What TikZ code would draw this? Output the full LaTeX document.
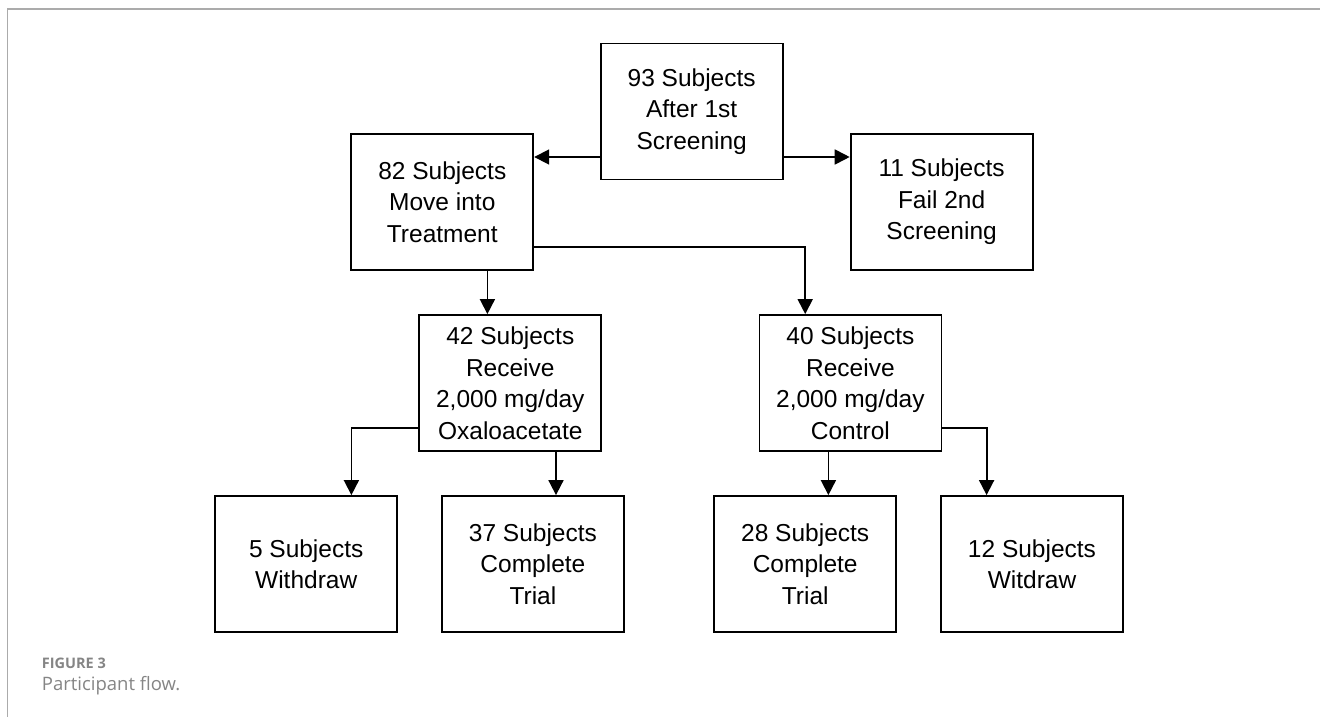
\documentclass[tikz,border=0pt]{standalone}
\usepackage{fontspec}
\setmainfont{Liberation Sans}
\newfontfamily\capfont{Open Sans}
\usetikzlibrary{arrows.meta,calc}
\definecolor{framegray}{HTML}{ABABAB}
\definecolor{capgray}{HTML}{858585}
\tikzset{
  box/.style={draw=black, line width=1.8pt, minimum width=182pt, minimum height=136pt,
    inner sep=0pt, align=center, font=\fontsize{24.5}{31.5}\selectfont},
  arr/.style={line width=1.8pt, -{Triangle[length=15pt,width=15pt]}},
  frameline/.style={draw=framegray, line width=1.4pt},
}
\begin{document}
\begin{tikzpicture}[x=1pt,y=-1pt]
\useasboundingbox (0,0) rectangle (1320,717);
\fill[white] (0,0) rectangle (1320,717);
\draw[frameline] (1320,9) -- (7.5,9) -- (7.5,717);

\node[box] (n93) at (691.7,111.5) {93 Subjects\\After 1st\\Screening};
\node[box] (n82) at (442.3,201.8) {82 Subjects\\Move into\\Treatment};
\node[box] (n11) at (941.6,201.8) {11 Subjects\\Fail 2nd\\Screening};
\node[box] (n42) at (510.3,383) {42 Subjects\\Receive\\2,000 mg/day\\Oxaloacetate};
\node[box] (n40) at (850.4,383) {40 Subjects\\Receive\\2,000 mg/day\\Control};
\node[box] (n5)  at (306.2,564) {5 Subjects\\Withdraw};
\node[box] (n37) at (532.9,564) {37 Subjects\\Complete\\Trial};
\node[box] (n28) at (805.2,564) {28 Subjects\\Complete\\Trial};
\node[box] (n12) at (1032,564) {12 Subjects\\Witdraw};

\draw[arr] (n93.west |- 0,157) -- (n82.east |- 0,157);
\draw[arr] (n93.east |- 0,157) -- (n11.west |- 0,157);
\draw[arr] (n82.east |- 0,247) -| ([xshift=-45.2pt]n40.north);
\draw[arr] ([xshift=45.1pt]n82.south) -- ([xshift=-22.9pt]n42.north);
\draw[arr] (n42.west |- 0,428) -| ([xshift=45.2pt]n5.north);
\draw[arr] ([xshift=45.7pt]n42.south) -- ([xshift=23.1pt]n37.north);
\draw[arr] (n40.east |- 0,428) -| ([xshift=-45.4pt]n12.north);
\draw[arr] ([xshift=-22pt]n40.south) -- ([xshift=23.2pt]n28.north);

\node[anchor=base west, inner sep=0pt, text=capgray, font=\capfont\bfseries\fontsize{14.5}{17}\selectfont] (fig) at (41.7,668) {FIGURE 3};
\node[anchor=base west, inner sep=0pt, text=capgray, font=\capfont\fontsize{18.5}{21}\selectfont] (cap) at (41.7,690) {Participant flow.};
\end{tikzpicture}
\end{document}
